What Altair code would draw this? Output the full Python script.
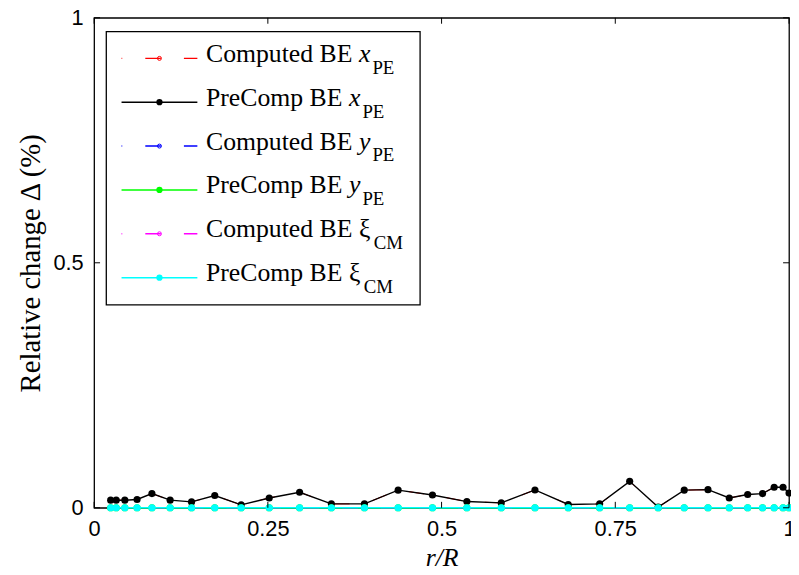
import altair as alt
import pandas as pd

# ---------------- data ----------------
r_vals = [0.0238, 0.0318, 0.0442, 0.0618, 0.0832, 0.1094, 0.1402, 0.1736, 0.2116, 0.2520,
          0.2957, 0.3414, 0.3890, 0.4375, 0.4869, 0.5364, 0.5859, 0.6344, 0.6823, 0.7275,
          0.7707, 0.8117, 0.8492, 0.8834, 0.9140, 0.9405, 0.9619, 0.9786, 0.9914, 1.0000]

precomp_x = [0.0155, 0.0155, 0.0155, 0.0170, 0.0290, 0.0155, 0.0120, 0.0250, 0.0060, 0.0200,
             0.0317, 0.0080, 0.0080, 0.0360, 0.0260, 0.0127, 0.0100, 0.0364, 0.0067, 0.0080,
             0.0540, 0.0014, 0.0360, 0.0370, 0.0200, 0.0270, 0.0290, 0.0420, 0.0420, 0.0300]

computed_x = [0.0155, 0.0155, 0.0155, 0.0170, 0.0290, 0.0155, 0.0120, 0.0250, 0.0060, 0.0200,
              0.0317, 0.0080, 0.0080, 0.0360, 0.0260, 0.0127, 0.0100, 0.0364, 0.0067, 0.0080,
              0.0540, 0.0014, 0.0360, 0.0370, 0.0200, 0.0270, 0.0290, 0.0420, 0.0420, 0.0300]

zero_vals = [0, 0, 0, 0, 0, 0, 0, 0, 0, 0,
             0, 0, 0, 0, 0, 0, 0, 0, 0, 0,
             0, 0, 0, 0, 0, 0, 0, 0, 0, 0]

computed_y = zero_vals
precomp_y = zero_vals
computed_xi = zero_vals
precomp_xi = zero_vals

legend_main = ["Computed BE", "PreComp BE", "Computed BE", "PreComp BE", "Computed BE", "PreComp BE"]
legend_var = ["x", "x", "y", "y", "ξ", "ξ"]
legend_sub = ["PE", "PE", "PE", "PE", "CM", "CM"]

x_ticks = [0, 0.25, 0.5, 0.75, 1]
y_ticks = [0, 0.5, 1]

x_title = "r/R"
y_title = "Relative change Δ (%)"

# ---------------- styles ----------------
colors = ["#FF0000", "#000000", "#0000FF", "#00FF00", "#FF00FF", "#00FFFF"]
is_computed = [True, False, True, False, True, False]
series_vals = [computed_x, precomp_x, computed_y, precomp_y, computed_xi, precomp_xi]

W, H = 702, 495
SERIF = "Liberation Serif"
SANS = "Liberation Sans"
DASH = [15.7, 23.3]

xscale = alt.Scale(domain=[0, 1], nice=False, zero=False)
yscale = alt.Scale(domain=[0, 1], nice=False, zero=False)

xaxis = alt.Axis(values=x_ticks, format=".2~f", title=x_title, grid=False, ticks=False,
                 domain=False, labelFont=SANS, labelFontSize=22, labelColor="black",
                 labelPadding=11, labelFlush=False, titleFont=SERIF, titleFontSize=26,
                 titleFontStyle="italic", titleFontWeight="normal", titleColor="black",
                 titlePadding=5, labelOverlap=False)
yaxis = alt.Axis(values=y_ticks, format=".2~f", title=y_title, grid=False, ticks=False,
                 domain=False, labelFont=SANS, labelFontSize=22, labelColor="black",
                 labelPadding=11, labelFlush=False, titleFont=SERIF, titleFontSize=29,
                 titleFontWeight="normal", titleColor="black", titlePadding=8,
                 labelOverlap=False)

X = alt.X("r:Q", scale=xscale, axis=xaxis)
Y = alt.Y("val:Q", scale=yscale, axis=yaxis)

layers = []
for vals, col, comp in zip(series_vals, colors, is_computed):
    df = pd.DataFrame({"r": r_vals, "val": vals})
    base = alt.Chart(df)
    if comp:
        line = base.mark_line(color=col, strokeWidth=1, strokeDash=DASH)
        pts = base.mark_point(color=col, filled=False, size=16, strokeWidth=1, opacity=1)
    else:
        line = base.mark_line(color=col, strokeWidth=1.4)
        pts = base.mark_point(color=col, filled=True, size=52, opacity=1)
    layers.append(line.encode(x=X, y=Y))
    layers.append(pts.encode(x=X, y=Y))

# inward tick marks (MATLAB style) on all four sides
xt = pd.DataFrame({"r": x_ticks})
yt = pd.DataFrame({"val": y_ticks})
TL = 6
layers.append(alt.Chart(xt).mark_rule(color="black", strokeWidth=1).encode(
    x=X, y=alt.value(H), y2=alt.value(H - TL)))
layers.append(alt.Chart(xt).mark_rule(color="black", strokeWidth=1).encode(
    x=X, y=alt.value(0), y2=alt.value(TL)))
layers.append(alt.Chart(yt).mark_rule(color="black", strokeWidth=1).encode(
    y=Y, x=alt.value(0), x2=alt.value(TL)))
layers.append(alt.Chart(yt).mark_rule(color="black", strokeWidth=1).encode(
    y=Y, x=alt.value(W), x2=alt.value(W - TL)))

# ---------------- manual legend (MATLAB style) ----------------
FS, SFS = 26, 19
times_w = {"C": 667, "o": 500, "m": 778, "p": 500, "u": 500, "t": 278, "e": 444, "d": 500,
           " ": 250, "B": 667, "E": 611, "P": 556, "r": 333}
var_w = {"x": 444, "y": 444, "ξ": 493}
text_x = 113
rows = []
for i, (m, v, s, c, comp) in enumerate(zip(legend_main, legend_var, legend_sub, colors, is_computed)):
    ly = 41 + 44.3 * i
    mw = sum(times_w[ch] for ch in m + " ") / 1000 * FS
    vx = text_x + mw
    sx = vx + var_w[v] / 1000 * FS + 2
    rows.append({"main": m, "var": v, "sub": s, "col": c, "comp": comp,
                 "ly": ly, "ty": ly + 3.5, "sy": ly + 15.5, "vx": vx, "sx": sx,
                 "italic": v != "ξ"})
leg = pd.DataFrame(rows)
lb = alt.Chart(leg)
LY = alt.Y("ly:Q", scale=None)
TY = alt.Y("ty:Q", scale=None)
SY = alt.Y("sy:Q", scale=None)
COL = alt.Color("col:N", scale=None)

layers.append(alt.Chart(pd.DataFrame({"a": [0]})).mark_rect(
    fill="white", stroke="black", strokeWidth=1.3).encode(
    x=alt.value(12.3), x2=alt.value(329.3), y=alt.value(14), y2=alt.value(290)))
layers.append(lb.transform_filter("datum.comp").mark_rule(
    strokeWidth=1.5, strokeDash=DASH, strokeDashOffset=15).encode(
    x=alt.value(27.7), x2=alt.value(104.3), y=LY, color=COL))
layers.append(lb.transform_filter("!datum.comp").mark_rule(strokeWidth=1.5).encode(
    x=alt.value(27.7), x2=alt.value(104.3), y=LY, color=COL))
layers.append(lb.transform_filter("datum.comp").mark_point(
    filled=False, size=16, strokeWidth=1, opacity=1).encode(
    x=alt.value(66), y=LY, color=COL))
layers.append(lb.transform_filter("!datum.comp").mark_point(
    filled=True, size=40, opacity=1).encode(
    x=alt.value(66), y=LY, color=COL))
layers.append(lb.mark_text(align="left", baseline="alphabetic", font=SERIF, fontSize=FS,
                           color="black").encode(x=alt.value(text_x), y=TY, text="main:N"))
layers.append(lb.transform_filter("datum.italic").mark_text(
    align="left", baseline="alphabetic", font=SERIF, fontSize=FS, fontStyle="italic",
    color="black").encode(x=alt.X("vx:Q", scale=None), y=TY, text="var:N"))
layers.append(lb.transform_filter("!datum.italic").mark_text(
    align="left", baseline="alphabetic", font=SERIF, fontSize=FS,
    color="black").encode(x=alt.X("vx:Q", scale=None), y=TY, text="var:N"))
layers.append(lb.mark_text(align="left", baseline="alphabetic", font=SERIF, fontSize=SFS,
                           color="black").encode(x=alt.X("sx:Q", scale=None), y=SY, text="sub:N"))

chart = alt.layer(*layers).properties(
    width=W, height=H,
    autosize=alt.AutoSizeParams(type="none"),
    padding={"left": 87, "top": 7, "right": 2, "bottom": 64},
    background="white",
).configure_view(stroke="black", strokeWidth=1.3)

chart.save("out.html", embed_options={"renderer": "svg", "actions": False})
